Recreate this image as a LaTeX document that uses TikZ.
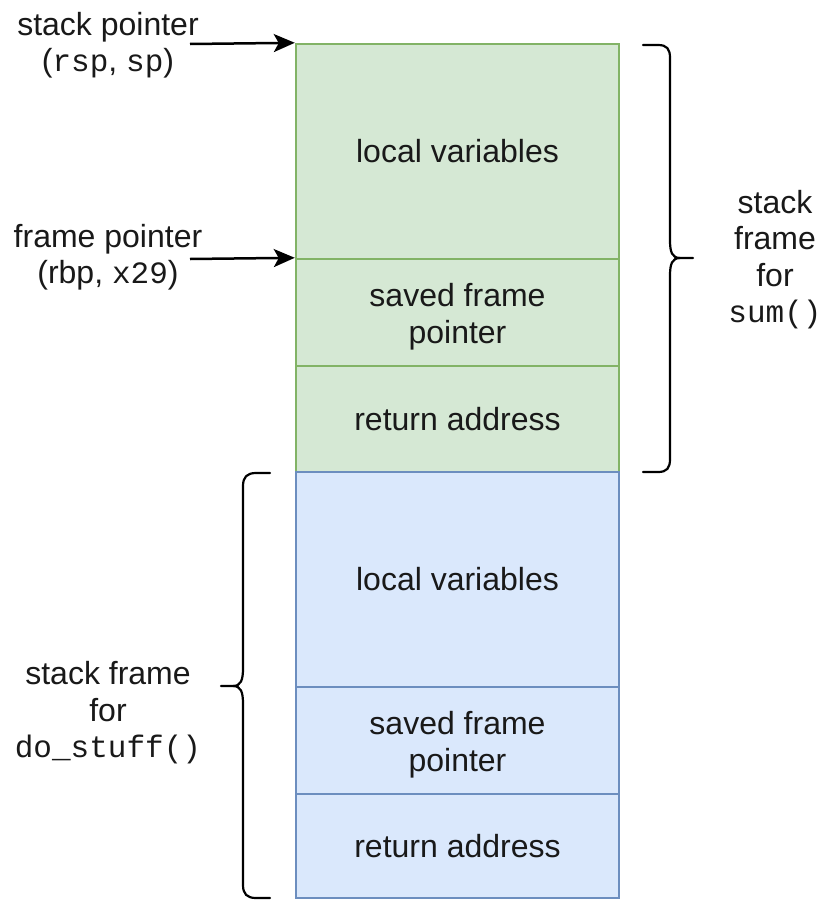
\documentclass[tikz,border=0pt]{standalone}
\usepackage{fontspec}
\setmainfont{Liberation Sans}
\newfontfamily\monofont{Liberation Mono}[Scale=0.97]
\usetikzlibrary{arrows.meta}
\definecolor{gfill}{HTML}{D5E8D4}
\definecolor{gline}{HTML}{82B366}
\definecolor{bfill}{HTML}{DAE8FC}
\definecolor{bline}{HTML}{6C8EBF}
\newcommand{\lowerstrut}{\rule{0pt}{32pt}}
\begin{document}
\begin{tikzpicture}[x=1pt,y=-1pt,
  every node/.style={font=\fontsize{32}{36.5}\selectfont, inner sep=0pt, align=center, text=black!90},
  cell/.style={line width=2.4pt, minimum width=323pt},
  greencell/.style={cell, fill=gfill, draw=gline},
  bluecell/.style={cell, fill=bfill, draw=bline},
  ptr/.style={-{Stealth[length=21pt,width=18pt,inset=5pt]}, line width=2.5pt},
  brace/.style={line width=2.2pt, line join=round, line cap=round}]
\useasboundingbox (0,0) rectangle (821,900);

% stack cells
\node[greencell, minimum height=215pt] (g1) at (457.5,151.5) {local variables};
\node[greencell, minimum height=107pt] (g2) at (457.5,312.5) {\lowerstrut saved frame\\pointer};
\node[greencell, minimum height=106pt] (g3) at (457.5,419) {return address};
\node[bluecell, minimum height=215pt] (b1) at (457.5,579.5) {local variables};
\node[bluecell, minimum height=107pt] (b2) at (457.5,740.5) {\lowerstrut saved frame\\pointer};
\node[bluecell, minimum height=104pt] (b3) at (457.5,846) {return address};

% pointer labels and arrows
\node (splbl) at (108,45) {stack pointer\\({\monofont rsp}, {\monofont sp})};
\node (fplbl) at (108,257) {frame pointer\\(rbp, {\monofont x29})};
\coordinate (spstart) at (190,44);
\coordinate (fpstart) at (190,259);
\draw[ptr] (spstart) -- (g1.north west);
\draw[ptr] (fpstart) -- (g2.north west);

% right brace (sum)
\draw[brace] (643,45) -- (658,45) .. controls (667,45) and (670,49) .. (670,58) -- (670,240) .. controls (670,252) and (672,258) .. (680,258) -- (693,258);
\draw[brace] (680,258) .. controls (672,258) and (670,264) .. (670,276) -- (670,459) .. controls (670,468) and (667,472) .. (658,472) -- (643,472);
\node (sumlbl) at (775,259.5) {stack\\frame\\for\\{\monofont sum()}};

% left brace (do_stuff)
\draw[brace] (270,473) -- (256,473) .. controls (247,473) and (243,477) .. (243,486) -- (243,668) .. controls (243,680) and (241,686) .. (233,686) -- (221,686);
\draw[brace] (233,686) .. controls (241,686) and (243,692) .. (243,704) -- (243,885) .. controls (243,894) and (247,898) .. (256,898) -- (270,898);
\node (dslbl) at (108,713) {stack frame\\for\\{\monofont do\_stuff()}};
\end{tikzpicture}
\end{document}
